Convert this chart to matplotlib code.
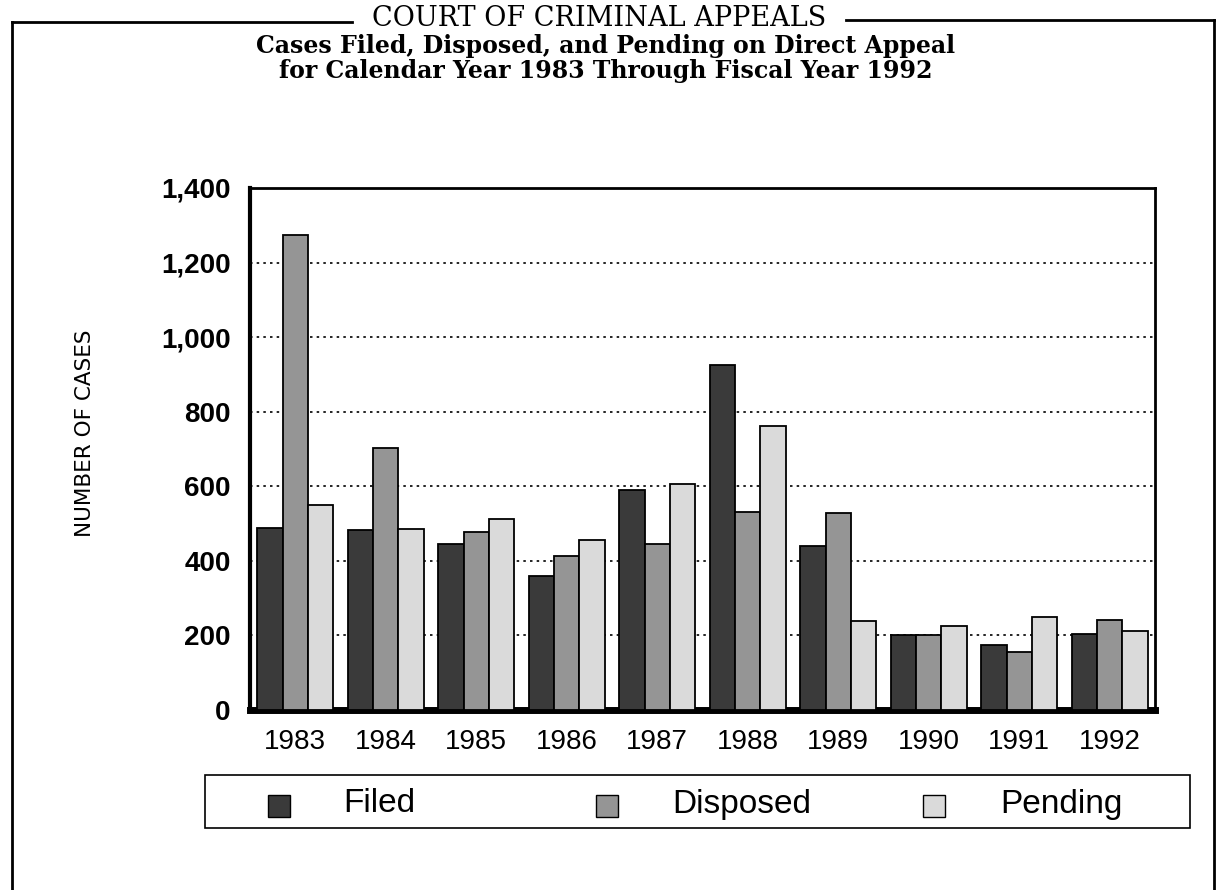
import matplotlib
matplotlib.use("Agg")
import matplotlib.pyplot as plt
import numpy as np
from matplotlib.patches import Rectangle
from matplotlib.lines import Line2D

years = ["1983", "1984", "1985", "1986", "1987", "1988", "1989", "1990", "1991", "1992"]
filed = [487, 484, 446, 360, 590, 925, 440, 200, 175, 203]
disposed = [1275, 702, 478, 413, 445, 530, 528, 200, 155, 242]
pending = [550, 486, 512, 456, 605, 762, 240, 226, 250, 212]
series_names = ["Filed", "Disposed", "Pending"]
y_ticks = [0, 200, 400, 600, 800, 1000, 1200, 1400]
y_tick_labels = ["0", "200", "400", "600", "800", "1,000", "1,200", "1,400"]

colors = ["#3a3a3a", "#959595", "#dadada"]
sans = ["Liberation Sans", "DejaVu Sans"]
serif = ["DejaVu Serif", "Liberation Serif"]

W, H = 1221, 890
fig = plt.figure(figsize=(W / 100, H / 100), dpi=100)
fig.patch.set_facecolor("white")

def fx(px):
    return px / W

def fy(py):
    return 1 - py / H

ax = fig.add_axes([fx(250), fy(710), fx(1155) - fx(250), fy(188) - fy(710)])

x = np.arange(len(years))
bw = 0.28
for i, (vals, c) in enumerate(zip([filed, disposed, pending], colors)):
    ax.bar(x + (i - 1) * bw, vals, width=bw, color=c, edgecolor="black",
           linewidth=1.3, zorder=3, label=series_names[i])

ax.set_xlim(-0.5, len(years) - 0.5)
ax.set_ylim(0, 1400)
ax.set_yticks(y_ticks)
ax.set_yticklabels(y_tick_labels, fontfamily=sans, fontsize=20, fontweight="bold")
ax.set_xticks(x)
ax.set_xticklabels(years, fontfamily=sans, fontsize=20)
ax.tick_params(axis="y", length=0, pad=14)
ax.tick_params(axis="x", length=0, pad=14)
for yv in y_ticks[1:-1]:
    ax.axhline(yv, color="black", linestyle=(0, (1.5, 2.5)), linewidth=1.2, zorder=1)

for s in ["left", "top", "right"]:
    ax.spines[s].set_linewidth(2)
ax.spines["left"].set_linewidth(3)
ax.spines["bottom"].set_linewidth(5)

ax.set_ylabel("NUMBER OF CASES", fontfamily=["DejaVu Sans"], fontsize=15.5)
ax.yaxis.set_label_coords(-(250 - 95) / (1155 - 250), 0.53)

# outer frame
lw = 2
fig.add_artist(Line2D([fx(12), fx(12)], [fy(22), fy(890)], color="black", lw=lw))
fig.add_artist(Line2D([fx(1214), fx(1214)], [fy(20), fy(890)], color="black", lw=lw))
fig.add_artist(Line2D([fx(12), fx(352)], [fy(22), fy(22)], color="black", lw=lw))
fig.add_artist(Line2D([fx(846), fx(1214)], [fy(20), fy(20)], color="black", lw=lw))

fig.text(fx(599), fy(18), "COURT OF CRIMINAL APPEALS", ha="center", va="center",
         fontfamily=serif, fontsize=19.5)
fig.text(fx(606), fy(46), "Cases Filed, Disposed, and Pending on Direct Appeal", ha="center",
         va="center", fontfamily=serif, fontsize=17, fontweight="bold")
fig.text(fx(606), fy(71), "for Calendar Year 1983 Through Fiscal Year 1992", ha="center",
         va="center", fontfamily=serif, fontsize=17, fontweight="bold")

# legend (manual layout)
fig.add_artist(Rectangle((fx(205), fy(828)), fx(1190) - fx(205), fy(775) - fy(828),
                         transform=fig.transFigure, facecolor="white", edgecolor="black",
                         linewidth=1.2))
sq_x = [268, 596, 923]
tx_x = [343, 672, 1000]
sq = 22
ymid = 804
for i in range(3):
    fig.add_artist(Rectangle((fx(sq_x[i]), fy(ymid + sq / 2 + 2)), fx(sq), fy(0) - fy(sq),
                             transform=fig.transFigure, facecolor=colors[i],
                             edgecolor="black", linewidth=1))
    fig.text(fx(tx_x[i]), fy(ymid), series_names[i], ha="left", va="center",
             fontfamily=sans, fontsize=24)

fig.savefig("out.png", dpi=100, facecolor="white")
